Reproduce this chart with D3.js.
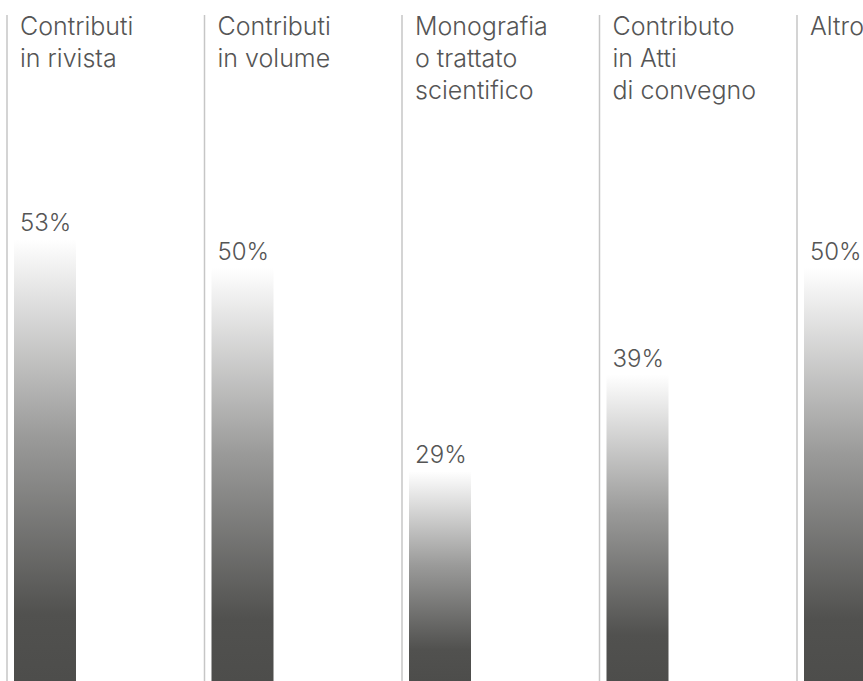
<!DOCTYPE html>
<html>
<head>
<meta charset="utf-8">
<script src="https://cdn.jsdelivr.net/npm/d3@7/dist/d3.min.js"></script>
<style>
  html, body { margin: 0; padding: 0; background: #fff; overflow: hidden; }
  svg { display: block; }
  text { font-family: Inter, "Helvetica Neue", Arial, sans-serif; font-weight: 300; fill: #555; }
</style>
</head>
<body>
<svg id="chart" width="863" height="681"></svg>
<script>
const categories = ["Contributi in rivista", "Contributi in volume", "Monografia o trattato scientifico", "Contributo in Atti di convegno", "Altro"];
const labelLines = [["Contributi", "in rivista"], ["Contributi", "in volume"], ["Monografia", "o trattato", "scientifico"], ["Contributo", "in Atti", "di convegno"], ["Altro"]];
const values = [53, 50, 29, 39, 50];
const valueLabels = ["53%", "50%", "29%", "39%", "50%"];

const W = 863, H = 681;
const svg = d3.select("#chart");

const x = d3.scaleBand().domain(categories).range([7, 7 + 5 * 197.5]).padding(0);
const y = d3.scaleLinear().domain([0, 53]).range([752, 239]);

const defs = svg.append("defs");
const grad = defs.append("linearGradient").attr("id", "barGrad")
  .attr("x1", 0).attr("y1", 0).attr("x2", 0).attr("y2", 1);
grad.append("stop").attr("offset", "0%").attr("stop-color", "#ffffff");
grad.append("stop").attr("offset", "45%").attr("stop-color", "#9a9a99");
grad.append("stop").attr("offset", "85%").attr("stop-color", "#51514f");
grad.append("stop").attr("offset", "100%").attr("stop-color", "#4d4d4b");

const col = svg.selectAll("g.col").data(categories).join("g")
  .attr("class", "col")
  .attr("transform", d => `translate(${x(d)},0)`);

col.append("line")
  .attr("x1", 0).attr("x2", 0).attr("y1", 15).attr("y2", H)
  .attr("stroke", "#c6c6c6").attr("stroke-width", 1.5);

col.append("rect")
  .attr("x", 7).attr("width", 62)
  .attr("y", (d, i) => y(values[i]))
  .attr("height", (d, i) => H - y(values[i]))
  .attr("fill", "url(#barGrad)");

col.append("text")
  .attr("x", 13)
  .attr("font-size", 25)
  .selectAll("tspan").data((d, i) => labelLines[i]).join("tspan")
  .attr("x", 13)
  .attr("y", (d, j) => 35 + j * 32)
  .text(d => d);

col.append("text")
  .attr("x", 13)
  .attr("y", (d, i) => y(values[i]) - 8)
  .attr("font-size", 24)
  .text((d, i) => valueLabels[i]);
</script>
</body>
</html>
